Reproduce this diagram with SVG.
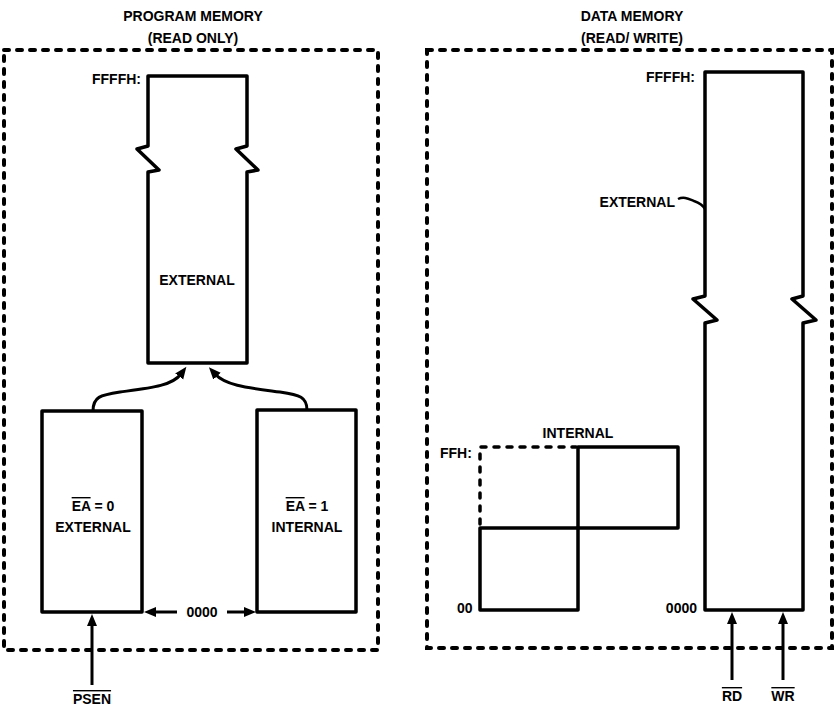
<svg xmlns="http://www.w3.org/2000/svg" width="834" height="707" viewBox="0 0 834 707">
<defs>
<style>
.t{font-family:"Liberation Sans",Arial,sans-serif;font-weight:bold;font-size:14px;fill:#000}
.box{fill:none;stroke:#000;stroke-width:3.5;stroke-linejoin:round}
.dash{fill:none;stroke:#000;stroke-width:4;stroke-dasharray:5 8;stroke-linecap:round}
.ln{fill:none;stroke:#000;stroke-width:3}
.ov{text-decoration:overline}
</style>
<marker id="ah" markerUnits="userSpaceOnUse" markerWidth="14" markerHeight="12" refX="3" refY="5" orient="auto">
<path d="M0,0 L12,5 L0,10 z" fill="#000"/>
</marker>
</defs>
<rect width="834" height="707" fill="#fff"/>

<g id="program-memory">
<text class="t" x="193" y="21" text-anchor="middle">PROGRAM MEMORY</text>
<text class="t" x="193" y="43" text-anchor="middle">(READ ONLY)</text>
<rect class="dash" x="4" y="50" width="374" height="600"/>
</g>

<g id="pm-external">
<path class="box" d="M148,146 L137,149 L159,170 L148,172 V363 H247 V172 L258,170 L236,149 L247,146 V76 H148 Z"/>
<text class="t" x="141" y="84" text-anchor="end">FFFFH:</text>
<text class="t" x="197" y="285" text-anchor="middle">EXTERNAL</text>
</g>

<g id="pm-ea0">
<rect class="box" x="42" y="411" width="100" height="201"/>
<text class="t" x="93" y="511" text-anchor="middle"><tspan class="ov">EA</tspan> = 0</text>
<text class="t" x="93" y="532" text-anchor="middle">EXTERNAL</text>
</g>

<g id="pm-ea1">
<rect class="box" x="257" y="410" width="99" height="202"/>
<text class="t" x="307" y="511" text-anchor="middle"><tspan class="ov">EA</tspan> = 1</text>
<text class="t" x="307" y="532" text-anchor="middle">INTERNAL</text>
</g>

<g id="data-memory">
<text class="t" x="632" y="21" text-anchor="middle">DATA MEMORY</text>
<text class="t" x="632" y="43" text-anchor="middle">(READ/ WRITE)</text>
<rect class="dash" x="427" y="50" width="405" height="598"/>
</g>

<g id="dm-external">
<path class="box" d="M705,296 L693,299 L717,320 L705,323 V610 H803 V323 L816,320 L792,299 L803,296 V72 H705 Z"/>
<text class="t" x="695" y="82" text-anchor="end">FFFFH:</text>
<text class="t" x="675" y="207" text-anchor="end">EXTERNAL</text>
<text class="t" x="697" y="613" text-anchor="end">0000</text>
</g>

<g id="dm-internal">
<text class="t" x="578" y="438" text-anchor="middle">INTERNAL</text>
<text class="t" x="440" y="458">FFH:</text>
<text class="t" x="457" y="613">00</text>
<path class="dash" d="M480,524 V447 H576" style="stroke-width:3.5"/>
<rect class="box" x="578" y="447" width="100" height="81"/>
<rect class="box" x="480" y="528" width="98" height="82"/>
</g>

<g id="connectors">
<path class="ln" d="M93,411 C93,397 100,395 120,392 C150,388 172,386 181,374" marker-end="url(#ah)"/>
<path class="ln" d="M307,410 C307,397 300,395 280,392 C250,388 226,386 215,374" marker-end="url(#ah)"/>
<path class="ln" d="M177,612 H153" marker-end="url(#ah)"/>
<path class="ln" d="M227,612 H247" marker-end="url(#ah)"/>
<text class="t" x="202" y="617" text-anchor="middle">0000</text>
<path class="ln" d="M92,685 V623" marker-end="url(#ah)"/>
<text class="t" x="92" y="704" text-anchor="middle"><tspan class="ov">PSEN</tspan></text>
<path class="ln" d="M732,680 V621" marker-end="url(#ah)"/>
<path class="ln" d="M783,680 V621" marker-end="url(#ah)"/>
<text class="t" x="732" y="701" text-anchor="middle"><tspan class="ov">RD</tspan></text>
<text class="t" x="783" y="701" text-anchor="middle"><tspan class="ov">WR</tspan></text>
<path class="ln" d="M678,199 C684,196 689,199 694,201 C700,203 703,205 705,209" style="stroke-width:2.5"/>
</g>
</svg>
